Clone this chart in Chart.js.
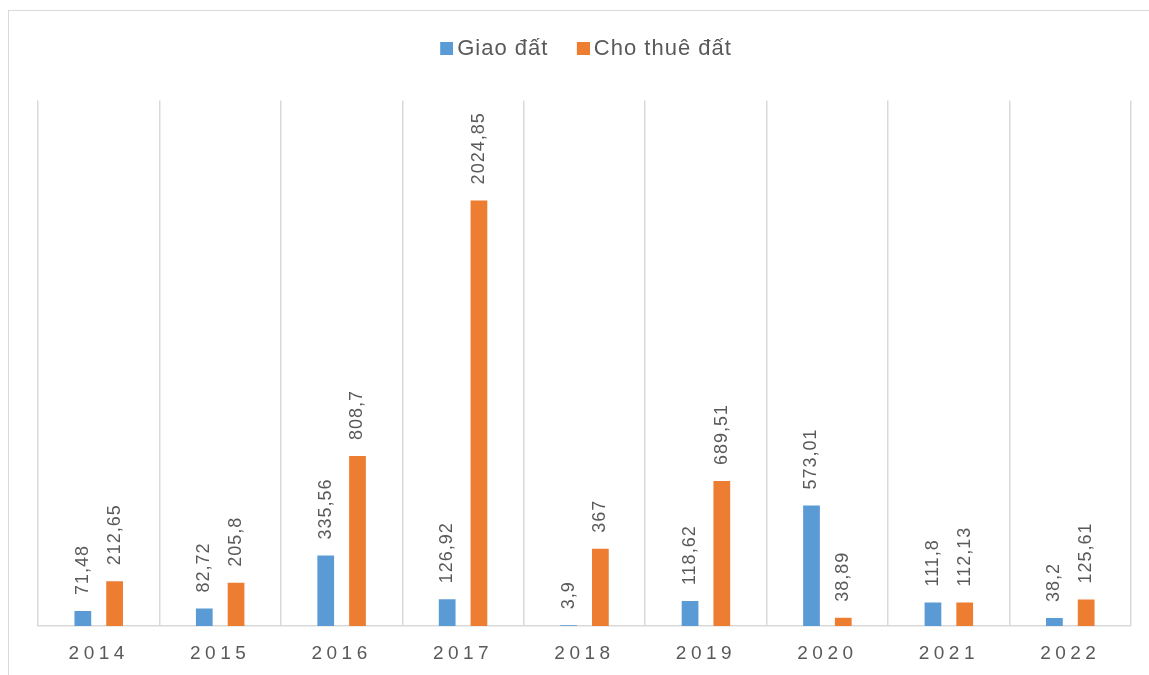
<!DOCTYPE html>
<html>
<head>
<meta charset="utf-8">
<script src="https://cdn.jsdelivr.net/npm/chart.js@4/dist/chart.umd.min.js"></script>
<style>
  html, body { margin: 0; padding: 0; background: #ffffff; overflow: hidden; }
  #wrap { position: relative; width: 1149px; height: 675px; }
  #frame { position: absolute; left: 8px; top: 10px; width: 1170px; height: 700px; border: 1.5px solid #d9d9d9; box-sizing: border-box; }
  #c { position: absolute; left: 0; top: 0; }
</style>
</head>
<body>
<div id="wrap">
  <div id="frame"></div>
  <canvas id="c" width="1149" height="675"></canvas>
</div>
<script>
const categories = ['2014', '2015', '2016', '2017', '2018', '2019', '2020', '2021', '2022'];
const giaoDat = [71.48, 82.72, 335.56, 126.92, 3.9, 118.62, 573.01, 111.8, 38.2];
const choThueDat = [212.65, 205.8, 808.7, 2024.85, 367, 689.51, 38.89, 112.13, 125.61];
const seriesNames = ['Giao đất', 'Cho thuê đất'];
const seriesColors = ['#5B9BD5', '#ED7D31'];
const yMax = 2500;

const FONT = "'Liberation Sans', Arial, sans-serif";
const TEXT = '#595959';
const GRID = '#d9d9d9';

function fmt(v) { return String(v).replace('.', ','); }

// legend marker: square placed at the right part of a small canvas
function marker(color) {
  const cv = document.createElement('canvas');
  cv.width = 16; cv.height = 13;
  const g = cv.getContext('2d');
  g.fillStyle = color;
  g.fillRect(3, 0, 13, 13);
  return cv;
}
const markers = seriesColors.map(marker);

const spacingPlugin = {
  id: 'spacing',
  beforeInit(chart) {
    const lg = chart.legend;
    if (lg && !lg._wrapped) {
      const of = lg.fit.bind(lg), od = lg.draw.bind(lg);
      lg.fit = function () {
        const c = chart.ctx; c.save(); c.letterSpacing = '1px'; of(); c.restore();
        this.height += 31;
      };
      lg.draw = function () {
        const c = chart.ctx; c.save(); c.letterSpacing = '1px'; c.translate(3.5, 0); od.apply(null, arguments); c.restore();
      };
      lg._wrapped = true;
    }
  },
  afterLayout(chart) {
    const x = chart.scales.x;
    if (x && !x._wrapped) {
      const od = x.drawLabels.bind(x);
      x.drawLabels = function () {
        const c = chart.ctx; c.save(); c.letterSpacing = '4.5px'; od.apply(null, arguments); c.restore();
      };
      x._wrapped = true;
    }
  }
};

const labelPlugin = {
  id: 'barLabels',
  afterDatasetsDraw(chart) {
    const ctx = chart.ctx;
    chart.data.datasets.forEach((ds, i) => {
      const meta = chart.getDatasetMeta(i);
      meta.data.forEach((bar, j) => {
        ctx.save();
        ctx.letterSpacing = '1px';
        ctx.font = '18px ' + FONT;
        ctx.fillStyle = TEXT;
        ctx.translate(bar.x, bar.y - 16);
        ctx.rotate(-Math.PI / 2);
        ctx.textAlign = 'left';
        ctx.textBaseline = 'middle';
        ctx.fillText(fmt(ds.data[j]), 0, 0);
        ctx.restore();
      });
    });
  }
};

new Chart(document.getElementById('c'), {
  type: 'bar',
  data: {
    labels: categories,
    datasets: [
      { label: seriesNames[0], data: giaoDat, backgroundColor: seriesColors[0], pointStyle: markers[0] },
      { label: seriesNames[1], data: choThueDat, backgroundColor: seriesColors[1], pointStyle: markers[1] }
    ]
  },
  options: {
    responsive: false,
    animation: false,
    devicePixelRatio: 1,
    categoryPercentage: 0.523,
    barPercentage: 0.527,
    layout: { padding: { left: 38, right: 18, top: 5, bottom: 0 } },
    plugins: {
      legend: {
        position: 'top',
        labels: {
          usePointStyle: true,
          boxWidth: 2,
          pointStyleWidth: 2,
          boxHeight: 13,
          padding: 32.5,
          color: TEXT,
          font: { family: FONT, size: 22 }
        }
      },
      tooltip: { enabled: false }
    },
    scales: {
      x: {
        grid: { display: true, offset: true, color: GRID, lineWidth: 1.5, drawTicks: false },
        border: { display: true, color: GRID, width: 1.5 },
        ticks: { color: TEXT, font: { family: FONT, size: 19 }, padding: 16, labelOffset: 0, maxRotation: 0 },
        afterFit(scale) { scale.height = 49; }
      },
      y: {
        display: false,
        min: 0,
        max: yMax
      }
    }
  },
  plugins: [spacingPlugin, labelPlugin]
});
</script>
</body>
</html>
